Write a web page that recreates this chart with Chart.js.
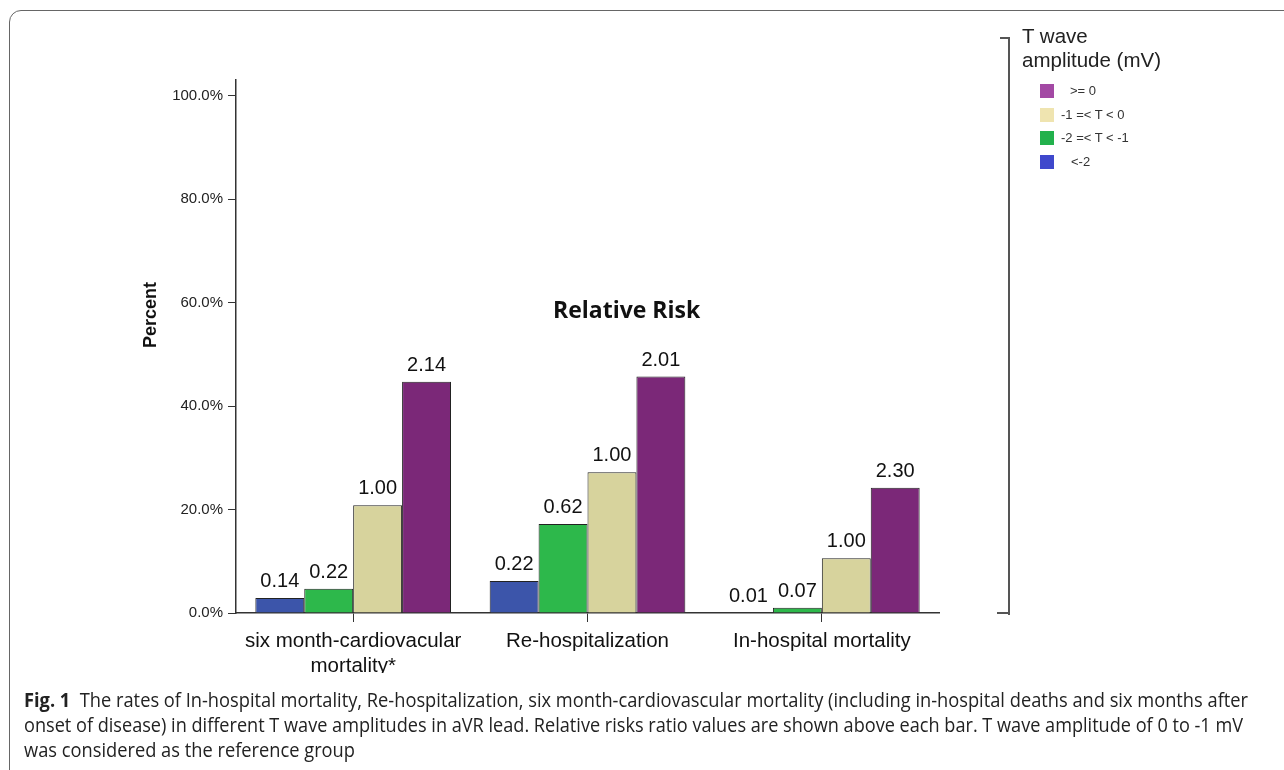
<!DOCTYPE html>
<html>
<head>
<meta charset="utf-8">
<script src="https://cdn.jsdelivr.net/npm/chart.js@4"></script>
<style>
  body { margin: 0; background: #fff; width: 1284px; height: 770px; overflow: hidden; position: relative; font-family: "Liberation Sans", Arial, sans-serif; }
  #frame { position: absolute; left: 9px; top: 10px; width: 1400px; height: 900px; border: 1.5px solid #666; border-radius: 12px; }
  #chart { position: absolute; left: 0; top: 0; }
  .abs { position: absolute; white-space: nowrap; }
  #rrTitle { left: 553px; top: 293px; font: bold 23px "Open Sans", sans-serif; color: #111; }
  #legTitle { left: 1022px; top: 24px; font-size: 20.5px; line-height: 24px; color: #222; }
  #bracket { left: 1000px; top: 37px; width: 8px; height: 576px; border-top: 2px solid #555; border-right: 2px solid #555; }
  #bracketFoot { left: 997px; top: 612px; width: 12px; border-top: 2px solid #555; }
  .legItem { position: absolute; left: 1040px; height: 14px; font-size: 13px; color: #333; }
  .legItem span.sw { position: absolute; left: 0; top: 0; width: 14px; height: 14px; }
  .legItem span.tx { position: absolute; top: -1px; white-space: pre; }
  #caption { position: absolute; left: 24px; top: 687px; font-family: "Open Sans", sans-serif; font-size: 20px; color: #222; }
  #caption div { height: 25px; line-height: 25px; white-space: nowrap; }
  #caption span { display: inline-block; transform-origin: 0 50%; }
</style>
</head>
<body>
<div id="frame"></div>
<canvas id="chart" width="1284" height="690"></canvas>
<div class="abs" id="rrTitle">Relative Risk</div>
<div class="abs" id="bracket"></div>
<div class="abs" id="bracketFoot"></div>
<div class="abs" id="legTitle">T wave<br>amplitude (mV)</div>
<div id="legend"></div>
<div id="caption">
  <div><span data-w="1224"><b>Fig. 1</b>&nbsp; The rates of In-hospital mortality, Re-hospitalization, six month-cardiovascular mortality (including in-hospital deaths and six months after</span></div>
  <div><span data-w="1219">onset of disease) in different T wave amplitudes in aVR lead. Relative risks ratio values are shown above each bar. T wave amplitude of 0 to -1 mV</span></div>
  <div><span data-w="331">was considered as the reference group</span></div>
</div>
<script>
// categories and groups
const categories = [['six month-cardiovacular', 'mortality*'], 'Re-hospitalization', 'In-hospital mortality'];
const groupLabels = ['<-2', '-2 =< T < -1', '-1 =< T < 0', '>= 0'];

// percent per group
const pctBelowMinus2 = [2.9, 6.2, 0];
const pctMinus2To1 = [4.7, 17.2, 1.0];
const pctMinus1To0 = [20.8, 27.2, 10.6];
const pctAtLeast0 = [44.7, 45.7, 24.2];

// relative risk labels above bars
const rrBelowMinus2 = ['0.14', '0.22', '0.01'];
const rrMinus2To1 = ['0.22', '0.62', '0.07'];
const rrMinus1To0 = ['1.00', '1.00', '1.00'];
const rrAtLeast0 = ['2.14', '2.01', '2.30'];

const yTicks = [0, 20, 40, 60, 80, 100];

const barColors = ['#3c55aa', '#2db84b', '#d7d39d', '#7b2878'];
const legendColors = ['#3f48cc', '#22b14c', '#efe4b0', '#a349a4'];
const pctSeries = [pctBelowMinus2, pctMinus2To1, pctMinus1To0, pctAtLeast0];
const rrSeries = [rrBelowMinus2, rrMinus2To1, rrMinus1To0, rrAtLeast0];

// legend, top-down from ">= 0"
const legend = document.getElementById('legend');
const legendTextLeft = [31, 21, 21, 30];
[3, 2, 1, 0].forEach((g, i) => {
  const item = document.createElement('div');
  item.className = 'legItem';
  item.style.top = (84 + i * 23.7) + 'px';
  item.innerHTML = `<span class="sw" style="background:${legendColors[g]}"></span><span class="tx" style="left:${legendTextLeft[g]}px"></span>`;
  item.querySelector('.tx').textContent = groupLabels[g];
  legend.appendChild(item);
});

const valueLabels = {
  id: 'valueLabels',
  afterDatasetsDraw(chart) {
    const ctx = chart.ctx;
    ctx.save();
    ctx.font = '20px "Liberation Sans", Arial, sans-serif';
    ctx.fillStyle = '#111';
    ctx.textAlign = 'center';
    ctx.textBaseline = 'alphabetic';
    chart.data.datasets.forEach((ds, i) => {
      chart.getDatasetMeta(i).data.forEach((bar, j) => {
        ctx.fillText(rrSeries[i][j], bar.x, bar.y - 11);
      });
    });
    // y axis title
    ctx.font = 'bold 18px "Liberation Sans", Arial, sans-serif';
    ctx.translate(151, 315);
    ctx.rotate(-Math.PI / 2);
    ctx.textBaseline = 'middle';
    ctx.fillText('Percent', 0, 0);
    ctx.restore();
  }
};

new Chart(document.getElementById('chart'), {
  type: 'bar',
  data: {
    labels: categories,
    datasets: pctSeries.map((d, i) => ({
      label: groupLabels[i],
      data: d,
      backgroundColor: barColors[i],
      borderColor: '#222',
      borderWidth: 1,
      categoryPercentage: 0.835,
      barPercentage: 1
    }))
  },
  options: {
    responsive: false,
    devicePixelRatio: 1,
    animation: false,
    layout: { padding: { left: 0, top: 80, right: 345, bottom: 17 } },
    plugins: { legend: { display: false }, tooltip: { enabled: false } },
    scales: {
      x: {
        grid: { drawOnChartArea: false, offset: false, tickLength: 9, color: '#333' },
        border: { color: '#333', width: 1.5 },
        ticks: { color: '#111', padding: 7, font: { family: '"Liberation Sans", Arial, sans-serif', size: 20.5 }, maxRotation: 0, autoSkip: false },
        afterFit: s => { s.height = 60; }
      },
      y: {
        min: 0,
        max: 103,
        afterBuildTicks: s => { s.ticks = yTicks.map(v => ({ value: v })); },
        grid: { drawOnChartArea: false, tickLength: 8, color: '#333' },
        border: { color: '#333', width: 1.5 },
        ticks: { color: '#222', padding: 5, font: { family: '"Liberation Sans", Arial, sans-serif', size: 15 }, callback: v => v.toFixed(1) + '%' },
        afterFit: s => { s.width = 236; }
      }
    }
  },
  plugins: [valueLabels]
});

// squeeze caption lines to the reference widths
function fitCaption() {
  document.querySelectorAll('#caption span[data-w]').forEach(sp => {
    sp.style.transform = 'none';
    const w = sp.getBoundingClientRect().width;
    sp.style.transform = `scaleX(${sp.dataset.w / w})`;
  });
}
fitCaption();
document.fonts.ready.then(fitCaption);
</script>
</body>
</html>
